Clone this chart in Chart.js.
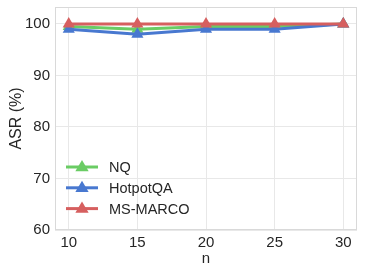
<!DOCTYPE html>
<html>
<head>
<meta charset="utf-8">
<script src="https://cdn.jsdelivr.net/npm/chart.js@4"></script>
<style>
  html, body { margin: 0; padding: 0; background: #fff; }
  #wrap { width: 365px; height: 272px; }
</style>
</head>
<body>
<div id="wrap"><canvas id="graph"></canvas></div>
<script>
// data
var nValues = [10, 15, 20, 25, 30];
var yTicks = [60, 70, 80, 90, 100];
var seriesNames = ['NQ', 'HotpotQA', 'MS-MARCO'];
var nqAsr = [99.5, 99, 99.5, 99.5, 100];
var hotpotAsr = [99, 98, 99, 99, 100];
var msmarcoAsr = [100, 100, 100, 100, 100];
var colors = ['#6acc64', '#4878d0', '#d65f5f'];

var fontFamily = '"Liberation Sans", Arial, sans-serif';

function points(vals) {
    return vals.map(function (v, i) { return { x: nValues[i], y: v }; });
}

// frame around the plot + legend inside the plot area
var framePlugin = {
    id: 'frame',
    afterDraw: function (chart) {
        var ctx = chart.ctx;
        var a = chart.chartArea;
        ctx.save();
        ctx.strokeStyle = '#d9d9d9';
        ctx.lineWidth = 1;
        ctx.strokeRect(a.left + 0.5, a.top + 0.5, a.right - a.left - 1, a.bottom - a.top - 1);

        // legend
        var x0 = a.left + 11;
        var y0 = a.bottom - 63;
        chart.data.datasets.forEach(function (ds, i) {
            var y = y0 + i * 20.8;
            ctx.strokeStyle = ds.borderColor;
            ctx.lineWidth = 3;
            ctx.beginPath();
            ctx.moveTo(x0, y);
            ctx.lineTo(x0 + 32, y);
            ctx.stroke();
            ctx.fillStyle = ds.borderColor;
            var cx = x0 + 16, r = 7;
            ctx.beginPath();
            ctx.moveTo(cx, y - r);
            ctx.lineTo(cx + r * 0.95, y + r * 0.6);
            ctx.lineTo(cx - r * 0.95, y + r * 0.6);
            ctx.closePath();
            ctx.fill();
            ctx.fillStyle = '#262626';
            ctx.font = '14.5px ' + fontFamily;
            ctx.textBaseline = 'middle';
            ctx.fillText(ds.label, x0 + 43, y + 1);
        });
        ctx.restore();
    }
};

var ctx = document.getElementById('graph').getContext('2d');
var allSeries = [nqAsr, hotpotAsr, msmarcoAsr];

var myChart = new Chart(ctx, {
    type: 'line',
    data: {
        datasets: allSeries.map(function (vals, i) {
            return {
                label: seriesNames[i],
                data: points(vals),
                borderColor: colors[i],
                backgroundColor: colors[i],
                borderWidth: 3,
                pointStyle: 'triangle',
                pointRadius: 7,
                pointBorderWidth: 0,
                fill: false,
                order: 3 - i
            };
        })
    },
    options: {
        responsive: true,
        maintainAspectRatio: false,
        animation: false,
        devicePixelRatio: 1,
        layout: { padding: { top: 7, right: 8, left: 7, bottom: 4 } },
        scales: {
            x: {
                type: 'linear',
                min: 9,
                max: 31,
                afterBuildTicks: function (scale) {
                    scale.ticks = nValues.map(function (v) { return { value: v }; });
                },
                afterFit: function (scale) {
                    scale.height = 38;
                    scale.paddingLeft = 0;
                    scale.paddingRight = 0;
                },
                grid: { color: '#e8e8e8', drawTicks: false },
                border: { display: false },
                ticks: { color: '#262626', font: { family: fontFamily, size: 15 }, padding: 4 },
                title: { display: true, text: 'n', color: '#262626', font: { family: fontFamily, size: 15 }, padding: { top: 0, bottom: 0 } }
            },
            y: {
                min: 60,
                max: 103.3,
                afterBuildTicks: function (scale) {
                    scale.ticks = yTicks.map(function (v) { return { value: v }; });
                },
                afterFit: function (scale) {
                    scale.width = 48;
                    scale.paddingTop = 0;
                    scale.paddingBottom = 0;
                },
                grid: { color: '#e8e8e8', drawTicks: false },
                border: { display: false },
                ticks: { color: '#262626', font: { family: fontFamily, size: 15 }, padding: 5 },
                title: { display: true, text: 'ASR (%)', color: '#262626', font: { family: fontFamily, size: 16 }, padding: { top: 0, bottom: 0 } }
            }
        },
        plugins: {
            legend: { display: false },
            tooltip: { enabled: false }
        }
    },
    plugins: [framePlugin]
});
</script>
</body>
</html>
